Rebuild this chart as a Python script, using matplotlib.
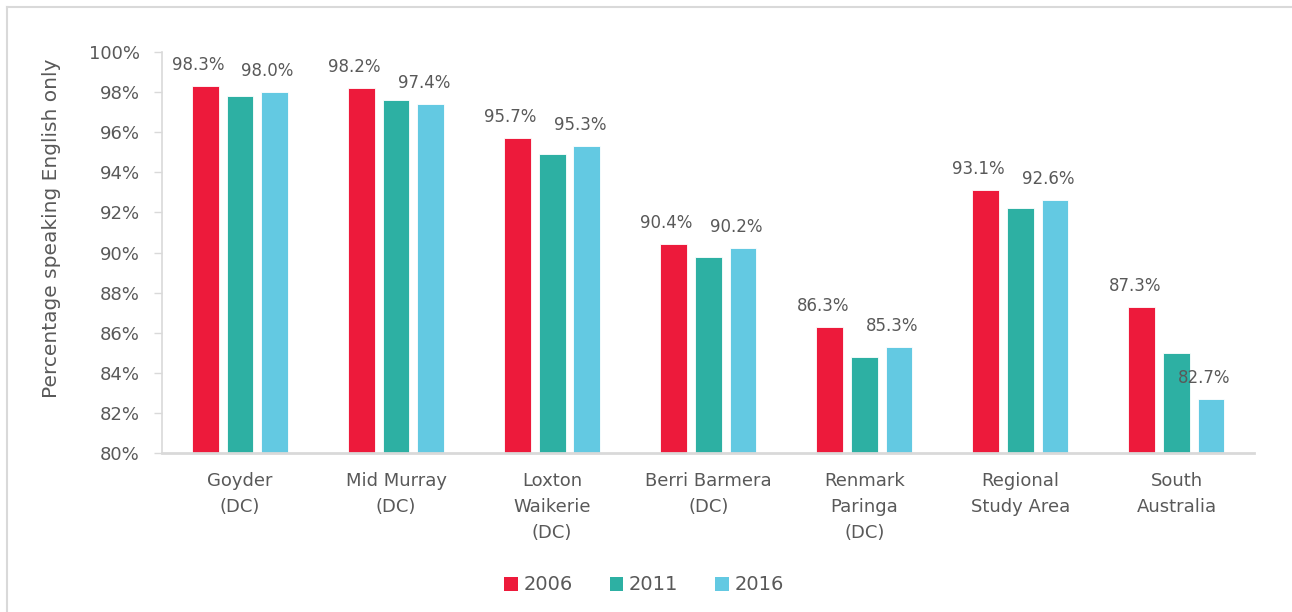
"""Clustered bars: share of people speaking English only, 2006/2011/2016."""

import matplotlib
matplotlib.use('Agg')
import matplotlib.pyplot as plt
from matplotlib.lines import Line2D
from matplotlib.patches import Patch
import numpy as np

plt.rcParams['font.family'] = ['DejaVu Sans']

categories = ['Goyder\n(DC)', 'Mid Murray\n(DC)', 'Loxton\nWaikerie\n(DC)',
              'Berri Barmera\n(DC)', 'Renmark\nParinga\n(DC)',
              'Regional\nStudy Area', 'South\nAustralia']
years = ['2006', '2011', '2016']
v2006 = [98.3, 98.2, 95.7, 90.4, 86.3, 93.1, 87.3]
v2011 = [97.8, 97.6, 94.9, 89.8, 84.8, 92.2, 85.0]
v2016 = [98.0, 97.4, 95.3, 90.2, 85.3, 92.6, 82.7]
labelled = {'2006': True, '2011': False, '2016': True}

colors = ['#ED1A3B', '#2DB0A3', '#63C9E2']
TEXT = '#595959'
AXIS = '#D9D9D9'

fig = plt.figure(figsize=(12.92, 6.12), dpi=100)
ax = fig.add_axes([162 / 1292, 1 - 453 / 612, 1092.5 / 1292, 401 / 612])

x = np.arange(len(categories))
width = 0.171
step = 0.222
series = [v2006, v2011, v2016]
for i, (yr, vals, col) in enumerate(zip(years, series, colors)):
    pos = x + (i - 1) * step
    ax.bar(pos, np.array(vals) - 80, width, bottom=80, color=col,
           edgecolor='white', linewidth=0.6, zorder=2)
    if labelled[yr]:
        for p, v in zip(pos, vals):
            ax.annotate(f'{v:.1f}%', (p, v), xytext=(-7, 16),
                        textcoords='offset pixels', ha='center', va='baseline',
                        fontsize=12, color=TEXT, zorder=3)

ax.set_xlim(-0.5, len(categories) - 0.5)
ax.set_ylim(80, 100)
ax.set_yticks(np.arange(80, 101, 2))
ax.set_yticklabels([f'{t}%' for t in range(80, 101, 2)])
ax.set_xticks(x)
ax.set_xticklabels(categories, linespacing=1.55)

ax.tick_params(axis='x', length=0, pad=14, labelsize=13, labelcolor=TEXT)
ax.tick_params(axis='y', length=6, width=1, color=AXIS, pad=10,
               labelsize=13, labelcolor=TEXT)

for s in ['top', 'right']:
    ax.spines[s].set_visible(False)
ax.spines['left'].set_color(AXIS)
ax.spines['left'].set_linewidth(1.2)
ax.spines['bottom'].set_color(AXIS)
ax.spines['bottom'].set_linewidth(2)

ax.set_ylabel('Percentage speaking English only', fontsize=14.5, color=TEXT,
              va='center')
ax.yaxis.set_label_coords(-0.1016, 0.56)

handles = [Patch(facecolor=c, edgecolor='none') for c in colors]
fig.legend(handles, years, loc='center', bbox_to_anchor=(644 / 1292, 1 - 585 / 612),
           ncol=3, frameon=False, fontsize=14, handlelength=0.7,
           handleheight=0.7, handletextpad=0.3, columnspacing=1.9,
           labelcolor=TEXT)

# light frame on the top and left edge of the picture
fig.add_artist(Line2D([6.5 / 1292, 1], [1 - 6.5 / 612, 1 - 6.5 / 612],
                      transform=fig.transFigure, color=AXIS, lw=1.5))
fig.add_artist(Line2D([6.5 / 1292, 6.5 / 1292], [0, 1 - 6.5 / 612],
                      transform=fig.transFigure, color=AXIS, lw=1.5))

fig.savefig('out.png', dpi=100, facecolor='white')
